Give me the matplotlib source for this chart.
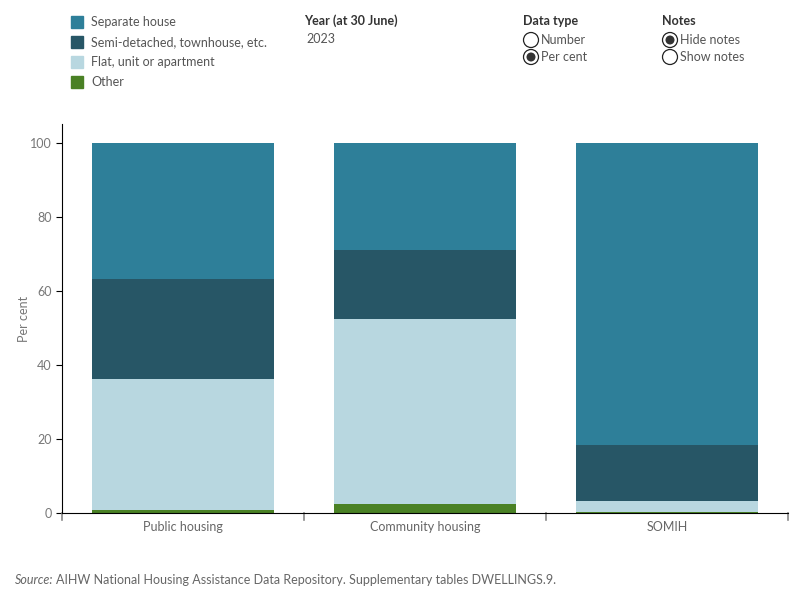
import matplotlib
matplotlib.use("Agg")
import matplotlib.pyplot as plt
from matplotlib.patches import Rectangle, Ellipse
import numpy as np

plt.rcParams['font.family'] = ['Lato', 'DejaVu Sans']

categories = ["Public housing", "Community housing", "SOMIH"]
series_names = ["Separate house", "Semi-detached, townhouse, etc.", "Flat, unit or apartment", "Other"]
other = [0.9, 2.4, 0.4]
flat = [35.3, 50.0, 2.8]
semi = [27.0, 18.7, 15.2]
separate = [36.8, 28.9, 81.6]
colors = {"Separate house": "#2e7f99", "Semi-detached, townhouse, etc.": "#275666",
          "Flat, unit or apartment": "#b8d7e0", "Other": "#4a8125"}
yticks = [0, 20, 40, 60, 80, 100]

fig = plt.figure(figsize=(8, 6), dpi=100)
ax = fig.add_axes([0.0775, 0.145, 0.9075, 0.648])
x = np.arange(len(categories))
w = 0.75
bottom = np.zeros(3)
for name, vals in [("Other", other), ("Flat, unit or apartment", flat),
                   ("Semi-detached, townhouse, etc.", semi), ("Separate house", separate)]:
    ax.bar(x, vals, w, bottom=bottom, color=colors[name], linewidth=0)
    bottom += np.array(vals)

ax.set_xlim(-0.5, 2.5)
ax.set_ylim(0, 105)
ax.set_yticks(yticks)
ax.set_yticklabels([str(t) for t in yticks])
ax.set_xticks(x)
ax.set_xticklabels(categories)
ax.tick_params(axis='x', length=0, colors='#666666', labelsize=9, pad=6)
ax.tick_params(axis='y', length=4, colors='#000000', labelcolor='#777777', labelsize=9, width=0.8)
for b in [-0.5, 0.5, 1.5, 2.5]:
    ax.plot([b, b], [0, -2], color='#888888', lw=1.2, clip_on=False)
for s in ['top', 'right']:
    ax.spines[s].set_visible(False)
ax.spines['left'].set_color('black')
ax.spines['bottom'].set_color('black')
ax.set_ylabel("Per cent", color='#777777', fontsize=9)
ax.yaxis.set_label_coords((30 - 62) / 726, 0.5)

# Legend
for i, name in enumerate(series_names):
    y = 1 - (22 + 20 * i) / 600
    fig.patches.append(Rectangle((71 / 800, y - 6 / 600), 12 / 800, 12 / 600,
                                 transform=fig.transFigure, color=colors[name]))
    fig.text(91 / 800, y, name, fontsize=9, color='#555555', va='center')

fig.text(304 / 800, 1 - 21 / 600, "Year (at 30 June)", fontsize=9, fontweight='bold', color='#333333', va='center')
fig.text(306 / 800, 1 - 39 / 600, "2023", fontsize=9, color='#555555', va='center')

fig.text(523 / 800, 1 - 21 / 600, "Data type", fontsize=9, fontweight='bold', color='#333333', va='center')
fig.text(662 / 800, 1 - 21 / 600, "Notes", fontsize=9, fontweight='bold', color='#333333', va='center')

def radio(xc, yc, label, selected):
    fig.patches.append(Ellipse((xc / 800, 1 - yc / 600), 15 / 800, 15 / 600,
                               transform=fig.transFigure, facecolor='white',
                               edgecolor='#222222', lw=0.9))
    if selected:
        fig.patches.append(Ellipse((xc / 800, 1 - yc / 600), 9 / 800, 9 / 600,
                                   transform=fig.transFigure, facecolor='#333333',
                                   edgecolor='none'))
    fig.text((xc + 10) / 800, 1 - yc / 600, label, fontsize=9, color='#555555', va='center')

radio(531, 40, "Number", False)
radio(531, 57, "Per cent", True)
radio(670, 40, "Hide notes", True)
radio(670, 57, "Show notes", False)

fig.text(15 / 800, 1 - 580 / 600, "Source:", fontsize=9, style='italic', color='#666666', va='center')
fig.text(56 / 800, 1 - 580 / 600, "AIHW National Housing Assistance Data Repository. Supplementary tables DWELLINGS.9.",
         fontsize=9, color='#666666', va='center')

fig.savefig("out.png", dpi=100)
